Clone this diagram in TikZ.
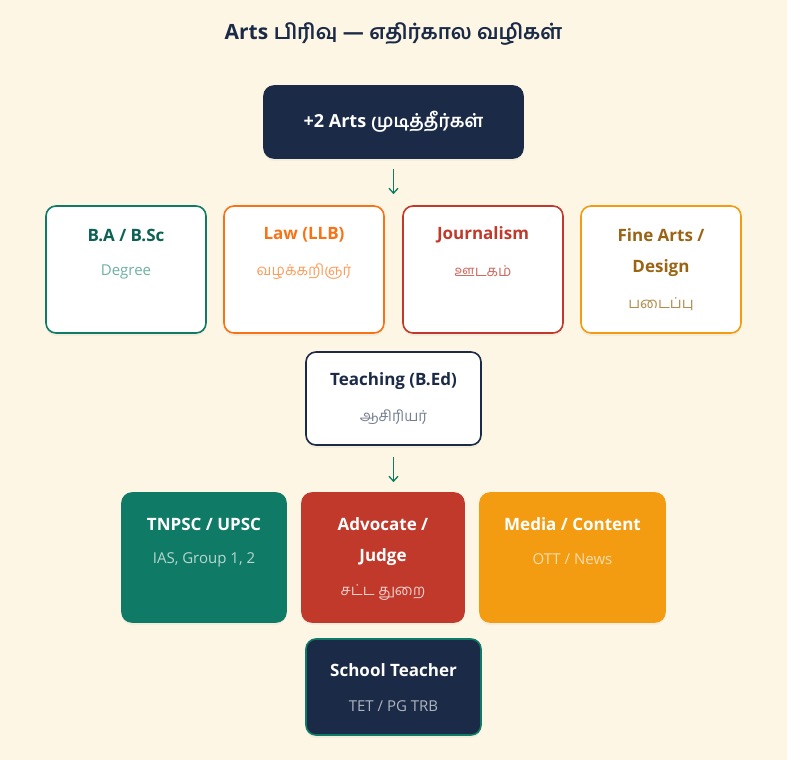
\documentclass[tikz,border=0pt]{standalone}
\usepackage{fontspec}
\setmainfont{Open Sans}
\newfontfamily\tamil[Script=Tamil]{Hind Madurai}
\usepackage{xcolor}
\usetikzlibrary{arrows.meta,shadows}
\definecolor{bgcream}{HTML}{FDF6E4}
\definecolor{navy}{HTML}{1B2A47}
\definecolor{teal}{HTML}{0F7B66}
\definecolor{lawor}{HTML}{F97316}
\definecolor{jred}{HTML}{C0392B}
\definecolor{amber}{HTML}{F39C12}
\definecolor{brown}{HTML}{9A6412}

\begin{document}
\begin{tikzpicture}[x=1pt,y=-1pt,
  box/.style={rounded corners=10pt, line width=1.6pt, fill=white, inner sep=0pt,
    drop shadow={opacity=0.07, shadow xshift=0pt, shadow yshift=-3pt}},
  head/.style={font=\bfseries\fontsize{17}{20}\selectfont},
  sub/.style={font=\fontsize{15}{18}\selectfont},
  arr/.style={draw=teal, line width=1.3pt, -{Straight Barb[length=5pt,width=9pt]}}]
\fill[bgcream] (0,0) rectangle (787,760);
\useasboundingbox (0,0) rectangle (787,760);

\node[text=navy, font=\bfseries\fontsize{21}{24}\selectfont] (title) at (393.5,34)
  {Arts {\tamil பிரிவு} — {\tamil எதிர்கால வழிகள்}};

\node[box, fill=navy, draw=navy, minimum width=259pt, minimum height=72pt] (start) at (393.5,122) {};
\node[text=white, font=\bfseries\fontsize{18}{22}\selectfont] (startt) at (393.5,121.5) {+2 Arts {\tamil முடித்தீர்கள்}};

\node[box, draw=teal, minimum width=160pt, minimum height=127pt] (ba) at (126,269.5) {};
\node[box, draw=lawor, minimum width=160pt, minimum height=127pt] (law) at (304,269.5) {};
\node[box, draw=jred, minimum width=160pt, minimum height=127pt] (jour) at (483,269.5) {};
\node[box, draw=amber, minimum width=160pt, minimum height=127pt] (fine) at (661,269.5) {};

\node[head, text=teal!80!black] (bat) at (126,235) {B.A / B.Sc};
\node[sub, text=teal!60!white] (bas) at (126,271.5) {Degree};
\node[head, text=lawor] (lawt) at (304,235) {Law (LLB)};
\node[sub, text=lawor!70!white] (laws) at (304,271.5) {\tamil வழக்கறிஞர்};
\node[head, text=jred] (jourt) at (483,235) {Journalism};
\node[sub, text=jred!75!white] (jours) at (483,271.5) {\tamil ஊடகம்};
\node[head, text=brown] (finet) at (661,235) {Fine Arts /};
\node[head, text=brown] (finet2) at (661,268) {Design};
\node[sub, text=brown!75!white] (fines) at (661,304.5) {\tamil படைப்பு};

\node[box, draw=navy, minimum width=175pt, minimum height=93pt] (teach) at (393.5,398.5) {};
\node[head, text=navy] (teacht) at (393.5,381) {Teaching (B.Ed)};
\node[sub, text=navy!60!white] (teachs) at (393.5,417.5) {\tamil ஆசிரியர்};

\node[box, fill=teal, draw=teal, minimum width=164pt, minimum height=129pt] (tnpsc) at (204,557.5) {};
\node[box, fill=jred, draw=jred, minimum width=162pt, minimum height=129pt] (adv) at (383,557.5) {};
\node[box, fill=amber, draw=amber, minimum width=185pt, minimum height=129pt] (media) at (572.5,557.5) {};

\node[head, text=white] (tnpsct) at (204,524) {TNPSC / UPSC};
\node[sub, text=white!70!teal] (tnpscs) at (204,559.5) {IAS, Group 1, 2};
\node[head, text=white] (advt) at (383,524) {Advocate /};
\node[head, text=white] (advt2) at (383,557) {Judge};
\node[sub, text=white!75!jred] (advs) at (383,592.5) {\tamil சட்ட துறை};
\node[head, text=white] (mediat) at (572.5,524) {Media / Content};
\node[sub, text=white!65!amber] (medias) at (572.5,559.5) {OTT / News};

\node[box, fill=navy, draw=teal, minimum width=175pt, minimum height=96pt] (school) at (393.5,687) {};
\node[head, text=white] (schoolt) at (393.5,670) {School Teacher};
\node[sub, text=white!65!navy] (schools) at (393.5,706.5) {TET / PG TRB};

\draw[arr, shorten <=10pt, shorten >=11pt] (start.south) -- (start.south |- ba.north);
\draw[arr, shorten <=11pt, shorten >=10pt] (teach.south) -- (teach.south |- adv.north);
\end{tikzpicture}
\end{document}
